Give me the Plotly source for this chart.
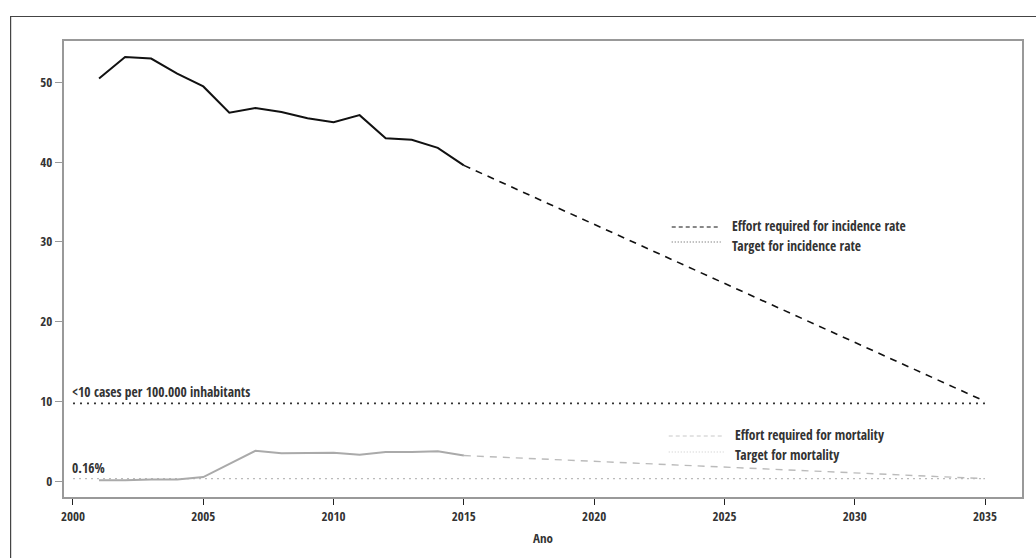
import plotly.graph_objects as go

years = [2001, 2002, 2003, 2004, 2005, 2006, 2007, 2008, 2009, 2010, 2011, 2012, 2013, 2014, 2015]
incidence = [50.5, 53.2, 53.0, 51.1, 49.5, 46.2, 46.8, 46.3, 45.5, 45.0, 45.9, 43.0, 42.8, 41.8, 39.6]
mortality = [0.1, 0.1, 0.2, 0.2, 0.5, 2.1, 3.8, 3.5, 3.5, 3.55, 3.3, 3.65, 3.65, 3.75, 3.2]

proj_years = [2015, 2035]
incidence_effort = [39.6, 10.0]
mortality_effort = [3.2, 0.3]

target_years = [2000, 2035]
incidence_target = [9.75, 9.75]
mortality_target = [0.3, 0.3]

x_ticks = [2000, 2005, 2010, 2015, 2020, 2025, 2030, 2035]
y_ticks = [0, 10, 20, 30, 40, 50]

FONT = "Open Sans Condensed, Roboto Condensed, DejaVu Sans Condensed, sans-serif"
TXT = "#333333"

def fnt(size=13):
    return dict(family=FONT, size=size, color=TXT, weight="bold")

fig = go.Figure()
fig.add_trace(go.Scatter(x=target_years, y=incidence_target, mode="lines",
                         line=dict(color="#333333", width=1.6, dash="2px,5px"),
                         name="Target for incidence rate", showlegend=False))
fig.add_trace(go.Scatter(x=target_years, y=mortality_target, mode="lines",
                         line=dict(color="#bbbbbb", width=1.4, dash="2px,4px"),
                         name="Target for mortality", showlegend=False))
fig.add_trace(go.Scatter(x=proj_years, y=incidence_effort, mode="lines",
                         line=dict(color="#111111", width=1.6, dash="7px,6px"),
                         name="Effort required for incidence rate", showlegend=False))
fig.add_trace(go.Scatter(x=proj_years, y=mortality_effort, mode="lines",
                         line=dict(color="#bbbbbb", width=1.4, dash="7px,6px"),
                         name="Effort required for mortality", showlegend=False))
fig.add_trace(go.Scatter(x=years, y=incidence, mode="lines",
                         line=dict(color="#111111", width=2),
                         name="Incidence", showlegend=False))
fig.add_trace(go.Scatter(x=years, y=mortality, mode="lines",
                         line=dict(color="#aaaaaa", width=2),
                         name="Mortality", showlegend=False))

# plot area geometry (pixels) for paper-coord conversions
L, T, R, B = 64, 41, 1024, 497
W, H = R - L, B - T

def px(x):
    return (x - L) / W

def py(y):
    return (B - y) / H

shapes = [
    dict(type="rect", xref="paper", yref="paper", x0=px(10.5), y0=py(600), x1=px(1100), y1=py(16.5),
         line=dict(color="#444444", width=1.2), fillcolor="rgba(0,0,0,0)", layer="below"),
]
# (line y, text anchor y, anchor side, label, colour, dash, x0, x1)
legend_items = [
    (227, 235.5, "bottom", "Effort required for incidence rate", "#111111", "4px,3px", 673, 722),
    (242, 235.5, "top", "Target for incidence rate", "#555555", "1px,2px", 673, 722),
    (436, 444.5, "bottom", "Effort required for mortality", "#c8c8c8", "4px,3px", 670, 725),
    (452, 444.5, "top", "Target for mortality", "#c8c8c8", "1px,2px", 670, 725),
]
annotations = []
for yy, ty, anc, label, col, dash, x0, x1 in legend_items:
    shapes.append(dict(type="line", xref="paper", yref="paper", x0=px(x0), x1=px(x1),
                       y0=py(yy), y1=py(yy), line=dict(color=col, width=1, dash=dash)))
    annotations.append(dict(xref="paper", yref="paper", x=px(x1 + 10), y=py(ty), text=label,
                            showarrow=False, xanchor="left", yanchor=anc, borderpad=0,
                            font=fnt(13.5)))

annotations.append(dict(x=2000, y=incidence_target[0], text="&lt;10 cases per 100.000 inhabitants",
                        showarrow=False, xanchor="left", yanchor="bottom", yshift=0, xshift=-3,
                        font=fnt(13.5)))
annotations.append(dict(x=2000, y=mortality_target[0], text="0.16%",
                        showarrow=False, xanchor="left", yanchor="bottom", yshift=0, xshift=-3,
                        font=fnt(13.5)))

fig.update_layout(
    width=1036, height=558,
    margin=dict(l=L, r=1036 - R, t=T, b=558 - B),
    paper_bgcolor="white", plot_bgcolor="white",
    font=fnt(13),
    showlegend=False,
    shapes=shapes,
    annotations=annotations,
    xaxis=dict(range=[1999.655, 2036.42], tickvals=x_ticks, ticks="outside", ticklen=6,
               tickcolor="#222222", showgrid=False, zeroline=False,
               showline=True, linecolor="#999999", linewidth=2, mirror=True,
               tickfont=fnt(13),
               title=dict(text="Ano", standoff=10, font=fnt(13))),
    yaxis=dict(range=[-2.0, 55.2], tickvals=y_ticks, ticks="outside", ticklen=7,
               tickcolor="#999999", showgrid=False, zeroline=False,
               showline=True, linecolor="#999999", linewidth=2, mirror=True,
               tickfont=fnt(13)),
)

fig.write_html("out.html")
